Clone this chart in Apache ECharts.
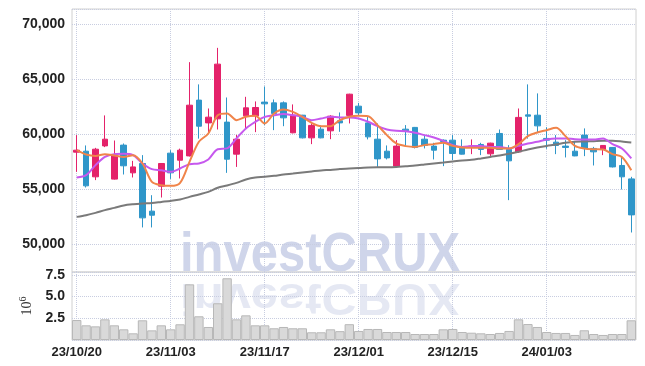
<!DOCTYPE html>
<html>
<head>
<meta charset="utf-8">
<script src="https://cdn.jsdelivr.net/npm/echarts@6/dist/echarts.min.js"></script>
<style>
html, body { margin: 0; padding: 0; background: #fff; }
#main { width: 645px; height: 366px; }
</style>
</head>
<body>
<div id="main"></div>
<script>
const dates = [
    '23/10/20', '23/10/23', '23/10/24', '23/10/25', '23/10/26', '23/10/27', '23/10/30', '23/10/31', '23/11/01', '23/11/02',
    '23/11/03', '23/11/06', '23/11/07', '23/11/08', '23/11/09', '23/11/10', '23/11/13', '23/11/14', '23/11/15', '23/11/16',
    '23/11/17', '23/11/20', '23/11/21', '23/11/22', '23/11/23', '23/11/24', '23/11/27', '23/11/28', '23/11/29', '23/11/30',
    '23/12/01', '23/12/04', '23/12/05', '23/12/06', '23/12/07', '23/12/08', '23/12/11', '23/12/12', '23/12/13', '23/12/14',
    '23/12/15', '23/12/18', '23/12/19', '23/12/20', '23/12/21', '23/12/22', '23/12/26', '23/12/27', '23/12/28', '24/01/02',
    '24/01/03', '24/01/04', '24/01/05', '24/01/08', '24/01/09', '24/01/10', '24/01/11', '24/01/12', '24/01/15', '24/01/16'
];
const openP = [
    58390, 58480, 56150, 58960, 55940, 59030, 56510, 57360, 53030, 55300,
    58300, 57660, 58050, 63120, 61050, 61420, 61120, 58210, 61690, 61690,
    62940, 62870, 62870, 60150, 61750, 59690, 60480, 60330, 61240, 61730,
    62570, 61050, 59570, 58480, 57120, 60480, 60640, 59570, 58940, 59480,
    59480, 58820, 58820, 59090, 58240, 60090, 58640, 58420, 61780, 61750,
    59640, 59300, 58940, 58480, 59940, 58730, 58640, 58820, 57180, 55960
];
const closeP = [
    58570, 55330, 58660, 59570, 58120, 57150, 57050, 52420, 52660, 57360,
    56510, 58570, 62660, 60750, 61570, 66390, 57750, 59570, 62420, 62450,
    62780, 61910, 61510, 61750, 59690, 60820, 59690, 61660, 61050, 63660,
    61960, 59780, 57780, 57870, 58940, 60330, 58820, 59000, 58570, 59360,
    58270, 58210, 58940, 58640, 59210, 58640, 57600, 61550, 61660, 60780,
    59480, 59000, 58820, 58050, 58730, 58420, 59000, 57050, 56150, 52690
];
const lowP = [
    56600, 55180, 55850, 58850, 55900, 56360, 56090, 51550, 51550, 54270,
    55960, 56000, 58000, 59620, 60090, 60450, 56510, 57050, 60550, 60210,
    60850, 60390, 60750, 60100, 59640, 59120, 59650, 59570, 60240, 61000,
    61750, 59550, 57050, 57730, 57100, 58940, 58730, 58730, 57730, 57120,
    57660, 58180, 58210, 58120, 57960, 58600, 54030, 58330, 59620, 60160,
    58700, 58210, 57910, 58020, 58030, 57180, 58120, 57000, 55000, 51090
];
const highP = [
    59940, 59000, 58780, 61730, 59450, 59180, 57600, 58120, 54480, 57400,
    58570, 58710, 66570, 64550, 62360, 67870, 63360, 59960, 63420, 63000,
    64360, 63180, 63000, 62730, 61780, 61000, 60820, 61750, 62000, 63700,
    62870, 61600, 61000, 59000, 59480, 60850, 60680, 59940, 59240, 59550,
    59940, 59550, 59550, 59240, 59250, 60450, 59030, 62360, 64550, 63730,
    60650, 59940, 59480, 59330, 60550, 58870, 59030, 58850, 57960, 56150
];
// moving averages
const ma5 = [
    58570, 58180, 58050, 58210, 58090, 57960, 58120, 57360, 55690, 55390,
    55330, 55600, 57510, 59330, 60090, 61750, 61910, 61300, 61600, 61690,
    61000, 61910, 62270, 62050, 61600, 61050, 60750, 60750, 61300, 61600,
    61690, 61660, 60850, 59940, 59180, 58940, 58870, 59030, 59120, 59240,
    58960, 58820, 58780, 58780, 58780, 58730, 58730, 59120, 59850, 60180,
    60390, 60600, 59850, 58960, 58730, 58660, 58640, 58210, 57960, 56750
];
const ma10 = [
    56090, 56300, 57210, 57960, 58210, 58240, 58120, 57360, 56850, 56750,
    56600, 56910, 57300, 57360, 57730, 58660, 58730, 59640, 60550, 61150,
    61600, 61750, 61850, 61750, 61600, 61300, 61450, 61600, 61550, 61550,
    61450, 61150, 60750, 60450, 60330, 60300, 60150, 59940, 59730, 59420,
    59030, 58870, 58940, 58960, 58870, 58870, 58730, 58960, 59180, 59330,
    59550, 59640, 59640, 59570, 59550, 59550, 59640, 59120, 58730, 57820
];
const ma60 = [
    52510, 52660, 52870, 53120, 53330, 53550, 53660, 53730, 53780, 53870,
    53960, 54090, 54330, 54550, 54780, 55150, 55360, 55600, 55910, 56090,
    56150, 56240, 56360, 56450, 56550, 56640, 56730, 56780, 56850, 56910,
    56940, 57000, 57030, 57030, 57050, 57120, 57180, 57270, 57360, 57450,
    57550, 57640, 57690, 57820, 57960, 58090, 58240, 58420, 58640, 58820,
    58960, 59090, 59240, 59330, 59360, 59390, 59420, 59420, 59360, 59270
];
// volume, millions of shares
const volume = [
    2.30, 1.69, 1.57, 2.38, 1.69, 1.23, 0.77, 2.27, 1.11, 1.69,
    1.23, 1.81, 6.41, 2.73, 1.50, 4.23, 7.11, 2.38, 2.84, 1.69,
    1.69, 1.35, 1.50, 1.35, 1.35, 0.89, 0.89, 1.23, 1.02, 1.82,
    1.04, 1.27, 1.27, 0.92, 0.92, 0.92, 0.69, 0.69, 0.69, 1.23,
    1.27, 0.92, 0.84, 0.77, 0.69, 0.81, 1.04, 2.38, 1.84, 1.50,
    0.92, 0.81, 0.81, 0.58, 1.12, 0.69, 0.58, 0.69, 0.69, 2.27
];

const candles = dates.map((d, i) => [openP[i], closeP[i], lowP[i], highP[i]]);

const labelFont = '"Liberation Sans", Arial, sans-serif';
const gridLine = { show: true, lineStyle: { color: '#c8cde0', type: 'dotted', width: 1 } };
const vLine = { show: true, interval: 9, alignWithLabel: true, lineStyle: { color: '#c8cde0', type: 'dotted', width: 1 } };

let myChart = echarts.init(document.getElementById('main'));
myChart.setOption({
    animation: false,
    grid: [
        { left: 72, right: 9, top: 9, bottom: 94, show: true, borderColor: '#d0d0d0', borderWidth: 1 },
        { left: 72, right: 9, top: 272, bottom: 26, show: true, borderColor: '#d0d0d0', borderWidth: 1 }
    ],
    graphic: [
        {
            type: 'text', x: 180, y: 283, scaleX: 0.89, silent: true,
            style: { text: 'investCRUX', font: 'bold 55px "Liberation Sans"', fill: '#cfd5ea', verticalAlign: 'bottom' }
        },
        {
            // mirrored copy under the baseline
            type: 'text', x: 180, y: 274, scaleX: 0.89, scaleY: -0.8, silent: true,
            style: { text: 'investCRUX', font: 'bold 55px "Liberation Sans"', fill: 'rgba(208,214,234,0.55)', verticalAlign: 'bottom' }
        }
    ],
    xAxis: [
        {
            type: 'category', gridIndex: 0, data: dates,
            axisLine: { show: false }, axisTick: { show: false }, axisLabel: { show: false },
            splitLine: vLine
        },
        {
            type: 'category', gridIndex: 1, data: dates,
            axisLine: { show: false }, axisTick: { show: false },
            axisLabel: { interval: 9, margin: 6, fontFamily: labelFont, fontWeight: 'bold', fontSize: 13, color: '#222' },
            splitLine: vLine
        }
    ],
    yAxis: [
        {
            type: 'value', gridIndex: 0, min: 47500, max: 71400, scale: true,
            axisLine: { show: false }, axisTick: { show: false },
            axisLabel: { showMinLabel: false, showMaxLabel: false, margin: 7, fontFamily: labelFont, fontWeight: 'bold', fontSize: 14, color: '#222' },
            splitLine: gridLine
        },
        {
            type: 'value', gridIndex: 1, min: 0, max: 7.83, interval: 2.5,
            axisLine: { show: false }, axisTick: { show: false },
            axisLabel: {
                showMinLabel: false, showMaxLabel: false, margin: 7, fontFamily: labelFont, fontWeight: 'bold', fontSize: 14, color: '#222',
                formatter: v => v.toFixed(1)
            },
            splitLine: gridLine,
            name: '10{sup|6}', nameLocation: 'middle', nameRotate: 90, nameGap: 31,
            nameTextStyle: {
                fontFamily: '"Liberation Serif", serif', fontSize: 14, color: '#333',
                rich: { sup: { fontFamily: '"Liberation Serif", serif', fontSize: 10, color: '#333', verticalAlign: 'top', padding: [0, 0, 8, 0] } }
            }
        }
    ],
    series: [
        {
            name: 'Price', type: 'candlestick', xAxisIndex: 0, yAxisIndex: 0,
            data: candles, barWidth: 6,
            itemStyle: { color: '#e4226a', color0: '#2f96c9', borderColor: '#e4226a', borderColor0: '#2f96c9', borderWidth: 1 }
        },
        {
            name: 'MA60', type: 'line', data: ma60, showSymbol: false, smooth: 0.3,
            lineStyle: { color: '#7a7a7a', width: 2 }, z: 3
        },
        {
            name: 'MA10', type: 'line', data: ma10, showSymbol: false, smooth: 0.3,
            lineStyle: { color: '#c658ee', width: 2 }, z: 3
        },
        {
            name: 'MA5', type: 'line', data: ma5, showSymbol: false, smooth: 0.3,
            lineStyle: { color: '#f0844a', width: 2 }, z: 3
        },
        {
            name: 'Volume', type: 'bar', xAxisIndex: 1, yAxisIndex: 1,
            data: volume, barCategoryGap: 0,
            itemStyle: { color: '#d9d9d9', borderColor: '#b8b8b8', borderWidth: 1 }
        }
    ]
});
</script>
</body>
</html>
